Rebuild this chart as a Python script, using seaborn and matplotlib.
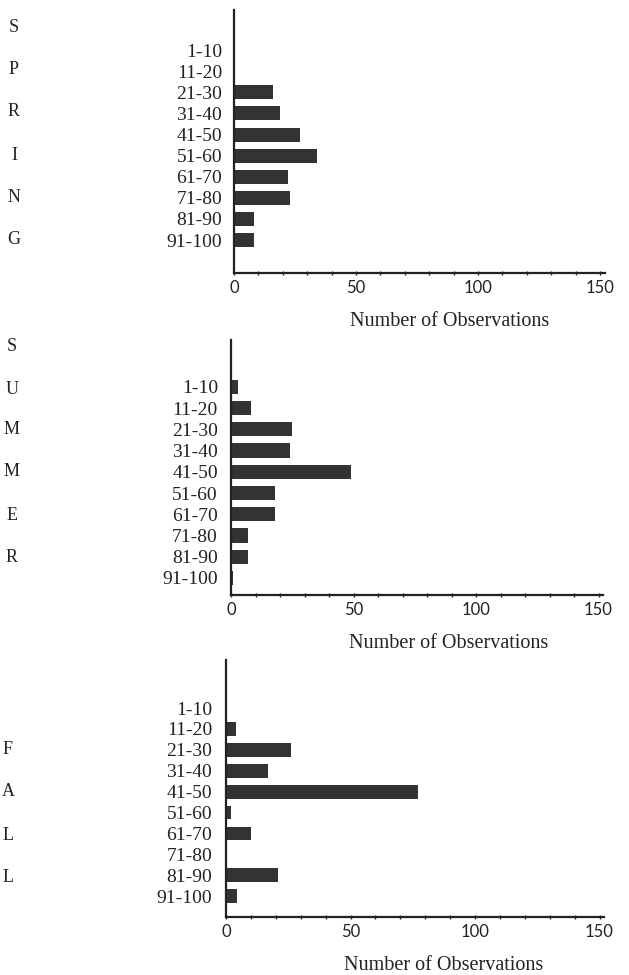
import matplotlib
matplotlib.use("Agg")
import matplotlib.pyplot as plt
import seaborn as sns
import pandas as pd
import numpy as np
from matplotlib.ticker import MultipleLocator, FixedLocator

categories = ["1-10", "11-20", "21-30", "31-40", "41-50",
              "51-60", "61-70", "71-80", "81-90", "91-100"]
spring = [0, 0, 16, 19, 27, 34, 22, 23, 8, 8]
summer = [3, 8, 25, 24, 49, 18, 18, 7, 7, 1]
fall = [0, 4, 26, 17, 77, 2, 10, 0, 21, 4.5]
x_ticks = [0, 50, 100, 150]
x_label = "Number of Observations"
season_letters = {
    "spring": ["S", "P", "R", "I", "N", "G"],
    "summer": ["S", "U", "M", "M", "E", "R"],
    "fall": ["F", "A", "L", "L"],
}

sns.set_theme(style="white")
plt.rcParams["font.family"] = ["Liberation Serif", "DejaVu Serif"]

W, H = 629, 975
fig = plt.figure(figsize=(W / 100, H / 100), dpi=100)
fig.patch.set_facecolor("white")

bar_color = "#333333"
ink = "#222222"

# (values, left_px, top_px, bottom_px, px_per_unit, slots_above, slots_below, label_y_px, label_x_px, pad)
panels = [
    (spring, 234, 10, 273, 2.44, 1.9, 1.56, 322, 450, 8.6),
    (summer, 231, 340, 595, 2.45, 2.2, 0.8, 643, 449, 9.4),
    (fall, 226, 660, 917, 2.49, 2.3, 1.0, 965, 444, 10),
]

for vals, left, top, bottom, ppu, above, below, ly, lx, pad in panels:
    xmax = 152
    ax = fig.add_axes([left / W, 1 - bottom / H, xmax * ppu / W, (bottom - top) / H])
    df = pd.DataFrame({"range": categories, "count": vals})
    sns.barplot(data=df, y="range", x="count", orient="h", color=bar_color,
                saturation=1, width=0.66, ax=ax, linewidth=0)
    ax.set_xlim(0, xmax)
    ax.set_ylim(9 + below, -above)
    for s in ["top", "right"]:
        ax.spines[s].set_visible(False)
    for s in ["left", "bottom"]:
        ax.spines[s].set_color(ink)
        ax.spines[s].set_linewidth(1.6)
    ax.xaxis.set_major_locator(FixedLocator(x_ticks))
    ax.xaxis.set_minor_locator(MultipleLocator(10))
    ax.tick_params(axis="x", which="both", direction="inout", length=3.5, width=1.0,
                   color=ink, bottom=True, pad=3)
    ax.set_xticks(x_ticks)
    ax.set_xticklabels([str(t) for t in x_ticks], fontsize=12,
                       family=["Lato", "DejaVu Sans"], color=ink)
    ax.tick_params(axis="y", which="both", left=False, length=0, pad=pad,
                   labelsize=14, labelcolor=ink)
    ax.set_ylabel("")
    ax.set_xlabel("")
    ax.set_facecolor("white")
    fig.text(lx / W, 1 - ly / H, x_label, ha="center", va="center",
             fontsize=14.5, color=ink)

letter_pos = {
    "spring": (14, [27, 70, 112, 155, 197, 239]),
    "summer": (12, [347, 390, 430, 472, 515, 557]),
    "fall": (8, [750, 792, 835, 877]),
}
for key, (xp, ys) in letter_pos.items():
    for letter, yp in zip(season_letters[key], ys):
        fig.text(xp / W, 1 - yp / H, letter, ha="center", va="center",
                 fontsize=13, color=ink)

fig.savefig("out.png", dpi=100, facecolor="white")
